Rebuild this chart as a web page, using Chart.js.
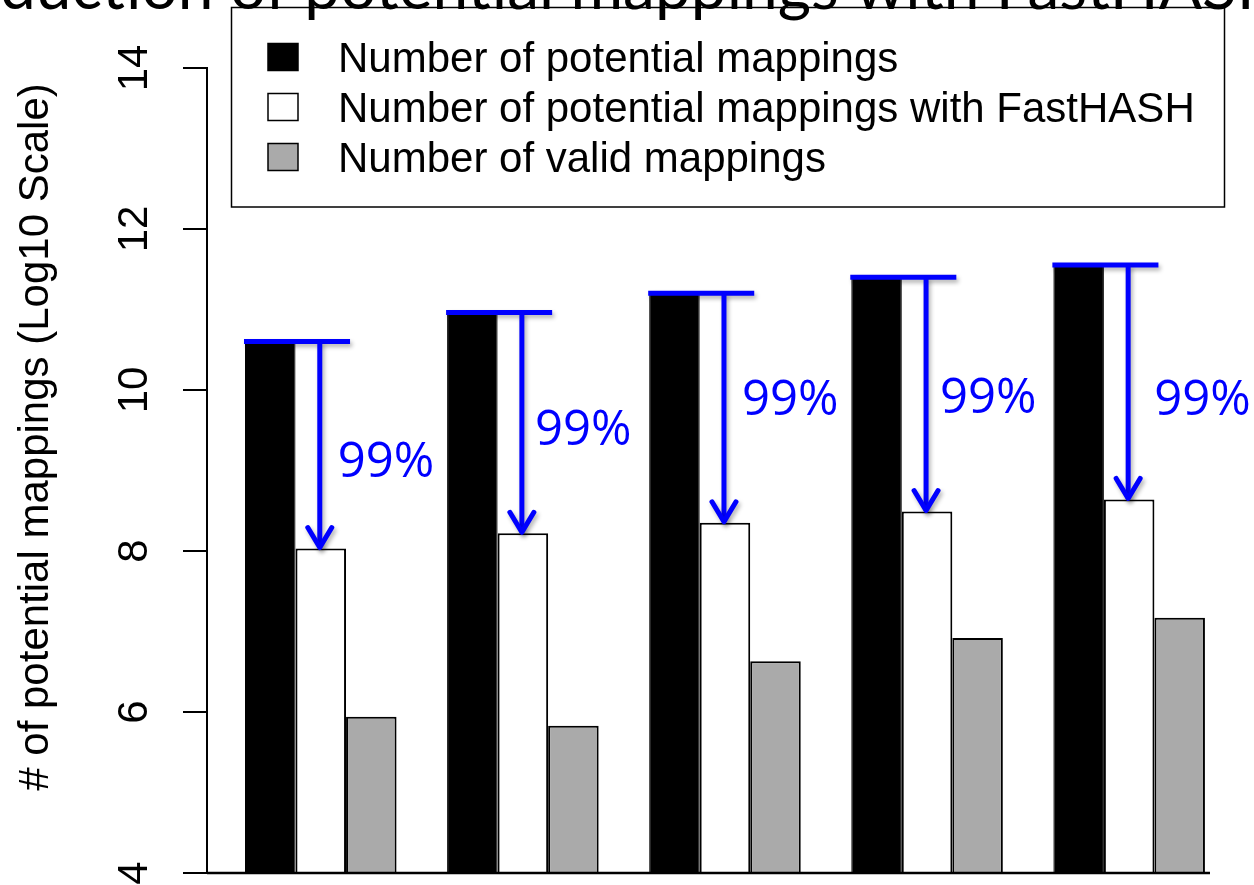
<!DOCTYPE html>
<html>
<head>
<meta charset="utf-8">
<script src="https://cdn.jsdelivr.net/npm/chart.js@4.4.1/dist/chart.umd.min.js"></script>
<style>
  html, body { margin: 0; padding: 0; background: #ffffff; }
  #wrap { width: 1254px; height: 885px; }
</style>
</head>
<body>
<div id="wrap"><canvas id="c" width="1254" height="885"></canvas></div>
<script>
// ---- data (log10 of mapping counts) ----
const chartTitle = 'Reduction of potential mappings with FastHASH';
const axisTitle = '# of potential mappings (Log10 Scale)';
const groupIndex = [0, 1, 2, 3, 4];
const seriesNames = [
  'Number of potential mappings',
  'Number of potential mappings with FastHASH',
  'Number of valid mappings'
];
const potentialMappings = [10.62, 10.98, 11.22, 11.42, 11.57];
const fastHashMappings  = [8.03, 8.22, 8.35, 8.49, 8.64];
const validMappings     = [5.94, 5.83, 6.63, 6.92, 7.17];
const yTickLabels = ['4', '6', '8', '10', '12', '14'];

// groups sit 4 units apart (3 bars + 1 gap), centred on 2.5, 6.5, ...
const groupCentre = g => 4 * g + 2.5;
const points = vals => groupIndex.map((g, i) => ({ x: groupCentre(g), y: vals[i] }));

const SANS = '"Liberation Sans", Arial, Helvetica, sans-serif';

const paper = {
  id: 'paper',
  beforeDraw(chart) {
    const { ctx, width, height } = chart;
    ctx.save();
    ctx.fillStyle = '#ffffff';
    ctx.fillRect(0, 0, width, height);
    ctx.restore();
  }
};

// baseline, blue reduction arrows and their percentage labels
const reduction = {
  id: 'reduction',
  afterDatasetsDraw(chart, args, opts) {
    const { ctx, chartArea } = chart;
    const yScale = chart.scales.y;

    ctx.save();
    ctx.strokeStyle = '#000000';
    ctx.lineWidth = 2.5;
    ctx.beginPath();
    ctx.moveTo(chartArea.left, chartArea.bottom);
    ctx.lineTo(chartArea.right, chartArea.bottom);
    ctx.stroke();
    ctx.restore();

    const upper = chart.getDatasetMeta(0).data;
    const lower = chart.getDatasetMeta(1).data;
    upper.forEach((a, i) => {
      const b = lower[i];
      const left = a.x - a.width / 2 - 1;
      const right = b.x + b.width / 2 + 4;
      const ax = b.x - 1;
      const yTop = a.y + 1.5;
      const yTip = b.y - 1;

      ctx.save();
      ctx.strokeStyle = opts.color;
      ctx.lineWidth = 5;
      ctx.shadowColor = 'rgba(0,0,0,0.3)';
      ctx.shadowBlur = 4;
      ctx.shadowOffsetX = 2;
      ctx.shadowOffsetY = 3;
      ctx.lineCap = 'butt';
      ctx.beginPath();
      ctx.moveTo(left, yTop);
      ctx.lineTo(right, yTop);
      ctx.stroke();
      ctx.beginPath();
      ctx.moveTo(ax, yTop);
      ctx.lineTo(ax, yTip);
      ctx.stroke();
      ctx.lineCap = 'round';
      ctx.lineJoin = 'round';
      ctx.beginPath();
      ctx.moveTo(ax - 12, yTip - 20);
      ctx.lineTo(ax, yTip);
      ctx.lineTo(ax + 12, yTip - 20);
      ctx.stroke();
      ctx.restore();

      const pct = Math.floor((1 - Math.pow(10, fastHashMappings[i] - potentialMappings[i])) * 100);
      ctx.save();
      ctx.fillStyle = opts.color;
      ctx.font = '49px "Open Sans", "Noto Sans", sans-serif';
      ctx.textAlign = 'left';
      ctx.textBaseline = 'alphabetic';
      ctx.fillText(pct + '%', ax + opts.dx[i], yScale.getPixelForValue(opts.baseline[i]));
      ctx.restore();
    });
  }
};

// tick labels, axis title, legend box and the title line
const frame = {
  id: 'frame',
  afterDraw(chart) {
    const { ctx } = chart;
    const yScale = chart.scales.y;

    ctx.save();
    ctx.fillStyle = '#000000';
    ctx.font = '42px ' + SANS;
    ctx.textAlign = 'center';
    ctx.textBaseline = 'alphabetic';
    yTickLabels.forEach(lbl => {
      const py = yScale.getPixelForValue(Number(lbl));
      ctx.save();
      ctx.translate(147, py);
      ctx.rotate(-Math.PI / 2);
      ctx.fillText(lbl, 0, 0);
      ctx.restore();
    });

    ctx.save();
    ctx.translate(48, 437);
    ctx.rotate(-Math.PI / 2);
    ctx.fillText(axisTitle, 0, 0);
    ctx.restore();

    // legend
    ctx.fillStyle = '#ffffff';
    ctx.fillRect(231, 7, 994, 200);
    ctx.strokeStyle = '#000000';
    ctx.lineWidth = 1.5;
    ctx.strokeRect(231.5, 7.5, 993, 199.5);
    chart.data.datasets.forEach((ds, i) => {
      const cy = 57 + 50 * i;
      ctx.fillStyle = ds.backgroundColor;
      ctx.fillRect(268, cy - 13.5, 30, 27);
      ctx.lineWidth = 1.5;
      ctx.strokeStyle = '#000000';
      ctx.strokeRect(268, cy - 13.5, 30, 27);
      ctx.fillStyle = '#000000';
      ctx.font = '42px ' + SANS;
      ctx.textAlign = 'left';
      ctx.fillText(ds.label, 338, cy + 15);
    });

    // title, running off both edges of the canvas
    ctx.fillStyle = '#000000';
    ctx.font = '64px Lato, "Open Sans", sans-serif';
    ctx.textAlign = 'left';
    ctx.fillText(chartTitle, -ctx.measureText('Re').width, 9);
    ctx.restore();
  }
};

new Chart(document.getElementById('c'), {
  type: 'bar',
  data: {
    datasets: [
      { label: seriesNames[0], data: points(potentialMappings), backgroundColor: '#000000', borderColor: '#000000', borderWidth: 1 },
      { label: seriesNames[1], data: points(fastHashMappings), backgroundColor: '#ffffff', borderColor: '#000000', borderWidth: 2 },
      { label: seriesNames[2], data: points(validMappings), backgroundColor: '#aaaaaa', borderColor: '#000000', borderWidth: 2 }
    ]
  },
  options: {
    responsive: false,
    animation: false,
    devicePixelRatio: 1,
    layout: { padding: { top: 68, right: 44, bottom: 12, left: 0 } },
    datasets: { bar: { categoryPercentage: 0.75, barPercentage: 1 } },
    plugins: {
      legend: { display: false },
      tooltip: { enabled: false },
      title: { display: false },
      reduction: {
        color: '#0000ff',
        dx: [18, 13, 18, 14, 26],
        baseline: [8.92, 9.32, 9.69, 9.71, 9.69]
      }
    },
    scales: {
      x: {
        type: 'linear',
        display: false,
        min: 0.248,
        max: 20.1,
        afterBuildTicks: s => { s.ticks = []; }
      },
      y: {
        min: 4,
        max: 14,
        ticks: { display: false, stepSize: 2 },
        grid: { drawOnChartArea: false, tickLength: 24, color: '#000000', lineWidth: 2 },
        border: { color: '#000000', width: 2 },
        afterFit: s => { s.width = 207; }
      }
    }
  },
  plugins: [paper, reduction, frame]
});
</script>
</body>
</html>
